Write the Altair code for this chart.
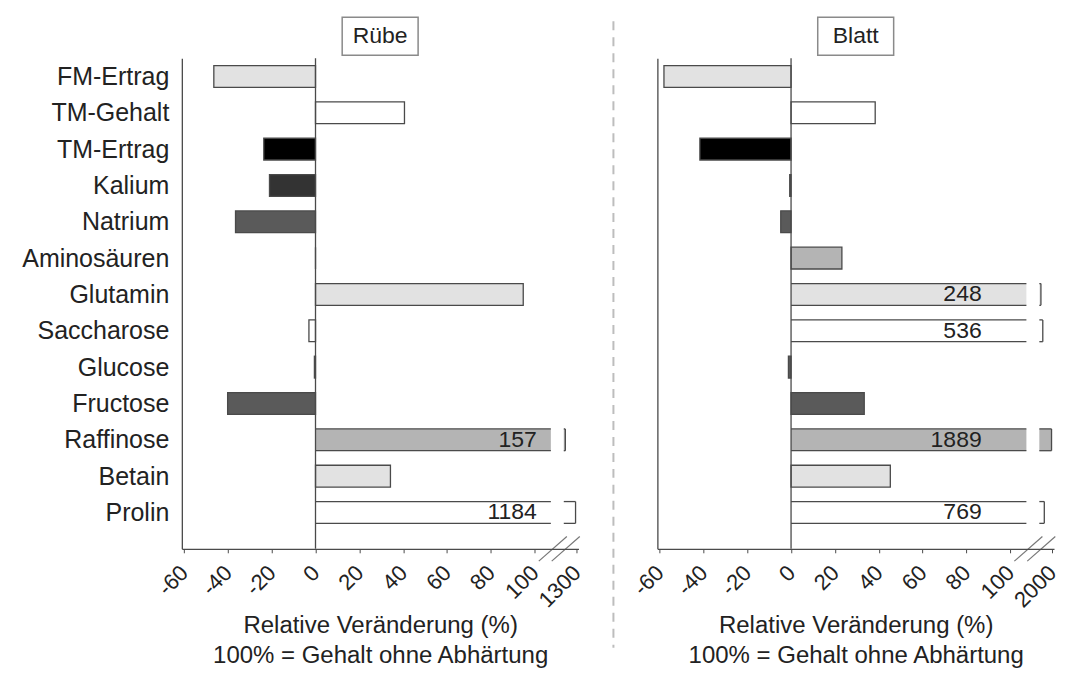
import json
import altair as alt
import pandas as pd

# ---------------- data ----------------
categories = ["FM-Ertrag", "TM-Gehalt", "TM-Ertrag", "Kalium", "Natrium",
              "Aminosäuren", "Glutamin", "Saccharose", "Glucose", "Fructose",
              "Raffinose", "Betain", "Prolin"]
fill_colors = ["#e2e2e2", "#ffffff", "#000000", "#333333", "#5a5a5a",
               "#b4b4b4", "#e2e2e2", "#ffffff", "#5a5a5a", "#5a5a5a",
               "#b4b4b4", "#e2e2e2", "#ffffff"]
ruebe_values = [-46.4, 40.6, -23.6, -21.0, -36.5, 0.0, 94.8, -3.0, -0.5,
                -40.1, 157, 34.2, 1184]
blatt_values = [-58.0, 38.4, -41.6, -0.6, -4.7, 23.2, 248, 536, -1.2,
                33.4, 1889, 45.3, 769]
panel_names = ["Rübe", "Blatt"]
break_max = [1300, 2000]
tick_values = [-60, -40, -20, 0, 20, 40, 60, 80, 100]
x_title = ["Relative Veränderung (%)", "100% = Gehalt ohne Abhärtung"]

# ---------------- layout constants (axis units / pixels) ----------------
X_DOMAIN = [-61, 120]
Y_DOMAIN = [-0.5, 13]
MAIN_END = 107.4      # where a broken bar is cut
SEG_START = 113.3     # start of the segment after the axis break
SEG_END = 119.2       # position of the break-axis maximum tick
HALF = 0.3            # half bar thickness in row units
W, H = 397, 491
FONT = "Liberation Sans"
EDGE = "#4a4a4a"
TEXT = "#222222"


def frames(values, bmax):
    rows, edges = [], []
    for i, (c, v, f) in enumerate(zip(categories, values, fill_colors)):
        broken = v > 100
        seg_end = SEG_START + (SEG_END - SEG_START) * v / bmax if broken else None
        rows.append(dict(cat=c, idx=i, value=v, fill=f, broken=broken,
                         y1=i - HALF, y2=i + HALF, x0=0.0,
                         main_end=MAIN_END if broken else v,
                         seg_start=SEG_START, seg_end=seg_end,
                         label=str(v) if broken else ""))
        if broken:
            for xa, xb, ya, yb in [(0, MAIN_END, i - HALF, i - HALF),
                                   (0, MAIN_END, i + HALF, i + HALF),
                                   (SEG_START, seg_end, i - HALF, i - HALF),
                                   (SEG_START, seg_end, i + HALF, i + HALF),
                                   (seg_end, seg_end, i - HALF, i + HALF)]:
                edges.append(dict(xa=xa, xb=xb, ya=ya, yb=yb))
    return pd.DataFrame(rows), pd.DataFrame(edges)


xscale = alt.Scale(domain=X_DOMAIN, nice=False, zero=False)
yscale = alt.Scale(domain=Y_DOMAIN, reverse=True, nice=False, zero=False)
cat_expr = json.dumps(categories, ensure_ascii=False)


def X(field):
    return alt.X(field, scale=xscale, title=x_title)


def Y(field):
    return alt.Y(field, scale=yscale, title=None)


def panel(p):
    values = [ruebe_values, blatt_values][p]
    bmax = break_max[p]
    df, edges = frames(values, bmax)
    label_x = [101, 87][p]
    df["label_x"] = label_x

    xaxis = alt.Axis(values=tick_values + [SEG_END],
                     labelExpr=f"datum.value > 110 ? '{bmax}' : '' + datum.value",
                     grid=False, domainColor=EDGE, tickColor=EDGE, tickSize=4,
                     labelAngle=-45, labelAlign="right",
                     labelBaseline="alphabetic",
                     labelFontSize=22, labelColor=TEXT, labelPadding=21,
                     labelOffset=5, labelOverlap=False, labelFlush=False,
                     labelBound=False,
                     titleFontSize=24, titleFontWeight="normal",
                     titleColor=TEXT, titleLineHeight=30, titlePadding=2,
                     domainWidth=1.3, zindex=1)
    if p == 0:
        yaxis = alt.Axis(values=list(range(len(categories))),
                         labelExpr=f"{cat_expr}[datum.value]",
                         ticks=False, grid=False, domainColor=EDGE,
                         labelFontSize=25, labelColor=TEXT, labelPadding=13,
                         domainWidth=1.3, labelLimit=300, zindex=1)
    else:
        yaxis = alt.Axis(labels=False, ticks=False, grid=False,
                         domainColor=EDGE, domainWidth=1.3, zindex=1)

    base = alt.Chart(df)
    normal = base.transform_filter("!datum.broken").mark_rect(
        stroke=EDGE, strokeWidth=1.3).encode(
        x=alt.X("x0:Q", scale=xscale, axis=xaxis, title=x_title),
        x2="value:Q",
        y=alt.Y("y1:Q", scale=yscale, axis=yaxis, title=None),
        y2="y2:Q",
        fill=alt.Fill("fill:N", scale=None))
    brk = base.transform_filter("datum.broken")
    main_fill = brk.mark_rect().encode(
        x=X("x0:Q"), x2="main_end:Q", y=Y("y1:Q"), y2="y2:Q",
        fill=alt.Fill("fill:N", scale=None))
    seg_fill = brk.mark_rect().encode(
        x=X("seg_start:Q"), x2="seg_end:Q", y=Y("y1:Q"), y2="y2:Q",
        fill=alt.Fill("fill:N", scale=None))
    edge_rules = alt.Chart(edges).mark_rule(color=EDGE, strokeWidth=1.3).encode(
        x=X("xa:Q"), x2="xb:Q", y=Y("ya:Q"), y2="yb:Q")
    labels = brk.mark_text(align="right", baseline="middle", fontSize=23,
                           color=TEXT, font=FONT).encode(
        x=X("label_x:Q"), y=Y("idx:Q"), text="label:N")
    one = alt.Chart(pd.DataFrame({"t": [panel_names[p]]}))
    zero = one.mark_rule(color=EDGE, strokeWidth=1.3).encode(
        x=alt.X(datum=0, scale=xscale, title=x_title))
    # axis break marks
    sl = pd.DataFrame({"c": [108.3, 114.2]})
    sl["xa"] = sl["c"] - 6.4
    sl["xb"] = sl["c"] + 6.4
    sl["ya"] = 13.34
    sl["yb"] = 12.66
    gap = alt.Chart(pd.DataFrame({"a": [108.6], "b": [113.9], "y": [13]})).mark_rule(
        color="white", strokeWidth=4).encode(
        x=X("a:Q"), x2="b:Q", y=Y("y:Q"))
    slashes = alt.Chart(sl).mark_rule(color="#777777", strokeWidth=1.2).encode(
        x=X("xa:Q"), x2="xb:Q", y=Y("ya:Q"), y2="yb:Q")
    box = one.mark_rect(fill="white", stroke="#8a8a8a", strokeWidth=1.5).encode(
        x=alt.value(W / 2 - 38), x2=alt.value(W / 2 + 38),
        y=alt.value(-41), y2=alt.value(-3))
    title = one.mark_text(fontSize=23, color=TEXT, font=FONT,
                          baseline="middle").encode(
        x=alt.value(W / 2), y=alt.value(-22), text="t:N")
    layers = [normal, main_fill, seg_fill, edge_rules, labels, zero, gap,
              slashes, box, title]
    if p == 0:
        anchor = one.mark_rule(color="white", strokeWidth=1).encode(
            x=alt.value(-170), y=alt.value(0), y2=alt.value(10))
        layers.append(anchor)
    else:
        sep = one.mark_rule(color="#bdbdbd", strokeWidth=2,
                            strokeDash=[9, 7]).encode(
            x=alt.value(-44), y=alt.value(-37), y2=alt.value(590))
        layers.append(sep)
    return alt.layer(*layers).properties(width=W, height=H)


chart = alt.hconcat(panel(0), panel(1), spacing=79, bounds="flush").properties(
    padding={"left": 3, "top": 8, "right": 0, "bottom": 0}
).configure(font=FONT).configure_view(stroke=None)

chart.save("out.html", embed_options={"renderer": "svg", "actions": False})
